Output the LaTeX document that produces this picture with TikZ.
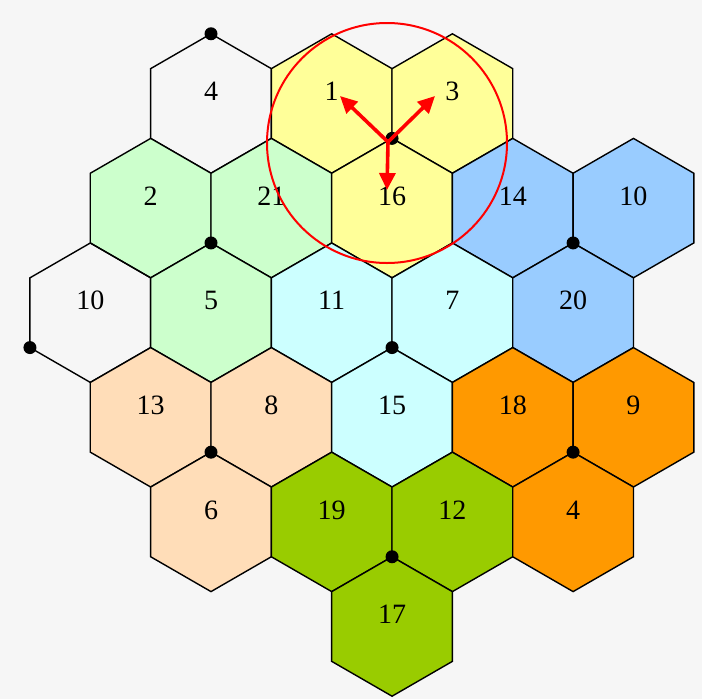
\documentclass[tikz,border=0pt]{standalone}
\usepackage{fontspec}
\setmainfont{Liberation Serif}
\usetikzlibrary{arrows.meta,shapes.geometric}
\definecolor{paper}{HTML}{F6F6F6}
\definecolor{cyellow}{HTML}{FFFF99}
\definecolor{cmint}{HTML}{CCFFCC}
\definecolor{csky}{HTML}{99CCFF}
\definecolor{caqua}{HTML}{CCFFFF}
\definecolor{cpeach}{HTML}{FFDDB8}
\definecolor{corange}{HTML}{FF9900}
\definecolor{colive}{HTML}{99CC00}
\tikzset{
  cell/.style={regular polygon, regular polygon sides=6, shape border rotate=30, minimum size=139.4pt, inner sep=0pt, draw=black, line width=1.4pt},
  num/.style={font=\fontsize{28}{30}\selectfont, text=black, yshift=12pt},
  dot/.style={circle, fill=black, minimum size=13pt, inner sep=0pt},
  ray/.style={-{Triangle[length=17pt,width=16pt]}, line width=3.6pt, red}
}
\begin{document}
\begin{tikzpicture}[x=1pt, y=-1pt]
\useasboundingbox (0,0) rectangle (702,699);
\fill[paper] (0,0) rectangle (702,699);
\begin{scope}[shift={(211,103.5)}, x=60.35pt, y=-104.6pt]
% row 0
\node[cell] (c4w) at (0,0) [label={[num]center:4}] {};
\node[cell, fill=cyellow] (c1) at (2,0) [label={[num]center:1}] {};
\node[cell, fill=cyellow] (c3) at (4,0) [label={[num]center:3}] {};
% row 1
\node[cell, fill=cmint] (c2) at (-1,1) [label={[num]center:2}] {};
\node[cell, fill=cmint] (c21) at (1,1) [label={[num]center:21}] {};
\node[cell, fill=cyellow] (c16) at (3,1) [label={[num]center:16}] {};
\node[cell, fill=csky] (c14) at (5,1) [label={[num]center:14}] {};
\node[cell, fill=csky] (c10b) at (7,1) [label={[num]center:10}] {};
% row 2
\node[cell] (c10w) at (-2,2) [label={[num]center:10}] {};
\node[cell, fill=cmint] (c5) at (0,2) [label={[num]center:5}] {};
\node[cell, fill=caqua] (c11) at (2,2) [label={[num]center:11}] {};
\node[cell, fill=caqua] (c7) at (4,2) [label={[num]center:7}] {};
\node[cell, fill=csky] (c20) at (6,2) [label={[num]center:20}] {};
% row 3
\node[cell, fill=cpeach] (c13) at (-1,3) [label={[num]center:13}] {};
\node[cell, fill=cpeach] (c8) at (1,3) [label={[num]center:8}] {};
\node[cell, fill=caqua] (c15) at (3,3) [label={[num]center:15}] {};
\node[cell, fill=corange] (c18) at (5,3) [label={[num]center:18}] {};
\node[cell, fill=corange] (c9) at (7,3) [label={[num]center:9}] {};
% row 4
\node[cell, fill=cpeach] (c6) at (0,4) [label={[num]center:6}] {};
\node[cell, fill=colive] (c19) at (2,4) [label={[num]center:19}] {};
\node[cell, fill=colive] (c12) at (4,4) [label={[num]center:12}] {};
\node[cell, fill=corange] (c4o) at (6,4) [label={[num]center:4}] {};
% row 5
\node[cell, fill=colive] (c17) at (3,5) [label={[num]center:17}] {};
% cluster corners
\node[dot] (d1) at (0,-2/3) {};
\node[dot] (d2) at (3,1/3) {};
\node[dot] (d3) at (0,4/3) {};
\node[dot] (d4) at (6,4/3) {};
\node[dot] (d5) at (-3,7/3) {};
\node[dot] (d6) at (3,7/3) {};
\node[dot] (d7) at (0,10/3) {};
\node[dot] (d8) at (6,10/3) {};
\node[dot] (d9) at (3,13/3) {};
\end{scope}
% sectored site
\node[circle, draw=red, line width=2pt, minimum size=240pt, inner sep=0pt] (zone) at (387,143) {};
\coordinate (hub) at (388,142);
\coordinate (t1) at (340,96);
\coordinate (t3) at (435,96);
\coordinate (t16) at (387,190);
\draw[ray] (hub) -- (t1);
\draw[ray] (hub) -- (t3);
\draw[ray] (hub) -- (t16);
\end{tikzpicture}
\end{document}
